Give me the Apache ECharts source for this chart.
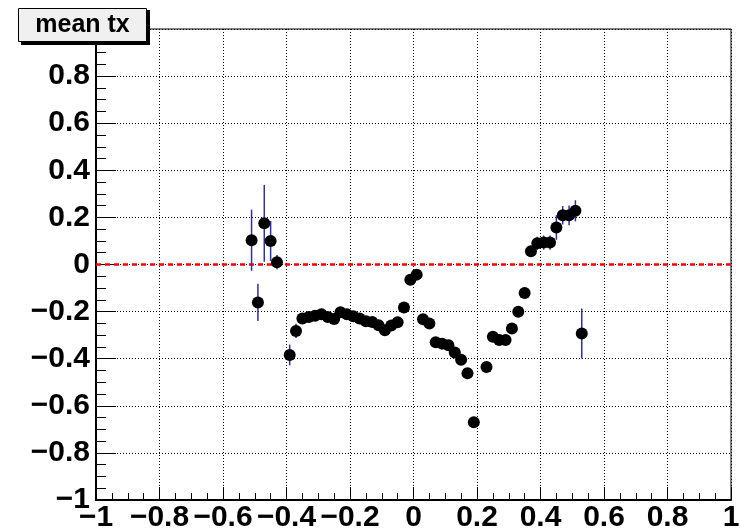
<!DOCTYPE html>
<html>
<head>
<meta charset="utf-8">
<script src="https://cdn.jsdelivr.net/npm/echarts@6/dist/echarts.min.js"></script>
<style>
html,body{margin:0;padding:0;background:#fff;}
#chart{width:740px;height:531px;}
</style>
</head>
<body>
<div id="chart"></div>
<script>
const titleText = 'mean tx';
const xTicks = [-1, -0.8, -0.6, -0.4, -0.2, 0, 0.2, 0.4, 0.6, 0.8, 1];
const xVals = [-0.51, -0.49, -0.47, -0.45, -0.43, -0.39, -0.37, -0.35, -0.33, -0.31,
  -0.29, -0.27, -0.25, -0.23, -0.21, -0.19, -0.17, -0.15, -0.13, -0.11,
  -0.09, -0.07, -0.05, -0.03, -0.01, 0.01, 0.03, 0.05, 0.07, 0.09,
  0.11, 0.13, 0.15, 0.17, 0.19, 0.23, 0.25, 0.27, 0.29, 0.31,
  0.33, 0.35, 0.37, 0.39, 0.41, 0.43, 0.45, 0.47, 0.49, 0.51, 0.53];
const yVals = [0.103, -0.161, 0.175, 0.100, 0.010, -0.384, -0.282, -0.229, -0.223, -0.218,
  -0.211, -0.223, -0.231, -0.203, -0.211, -0.220, -0.229, -0.241, -0.244, -0.258,
  -0.279, -0.259, -0.245, -0.183, -0.065, -0.043, -0.232, -0.251, -0.330, -0.336,
  -0.343, -0.374, -0.404, -0.462, -0.670, -0.435, -0.307, -0.321, -0.321, -0.272,
  -0.201, -0.121, 0.056, 0.090, 0.093, 0.093, 0.157, 0.209, 0.209, 0.228, -0.293];
const yErrs = [0.130, 0.079, 0.163, 0.085, 0.030, 0.044, 0.030, 0.015, 0.015, 0.015,
  0.015, 0.015, 0.015, 0.015, 0.015, 0.015, 0.015, 0.015, 0.015, 0.015,
  0.015, 0.015, 0.015, 0.015, 0.015, 0.015, 0.015, 0.015, 0.015, 0.015,
  0.015, 0.015, 0.015, 0.015, 0.015, 0.015, 0.015, 0.015, 0.015, 0.015,
  0.015, 0.015, 0.020, 0.028, 0.030, 0.030, 0.052, 0.039, 0.042, 0.045, 0.106];
const refLineY = 0;

const pts = xVals.map((x, i) => [x, yVals[i], yErrs[i]]);
const FONT = '"Liberation Sans", Arial, Helvetica, sans-serif';
const fmt = v => {
  const r = Math.round(v * 10) / 10;
  if (Math.abs(r) < 1e-9) return '0';
  return String(r).replace('-', '\u2212');
};

const chart = echarts.init(document.getElementById('chart'), null, {renderer: 'canvas'});
chart.setOption({
  animation: false,
  backgroundColor: '#fff',
  grid: {left: 96, right: 9, top: 29, bottom: 31, containLabel: false, outerBoundsMode: 'none',
         show: true, borderColor: '#000', borderWidth: 1},
  xAxis: {
    type: 'value', min: -1, max: 1, interval: 0.2,
    axisLine: {show: true, onZero: false, lineStyle: {color: '#000', width: 2}},
    axisTick: {show: true, inside: true, length: 13, lineStyle: {color: '#000', width: 1}},
    minorTick: {show: true, splitNumber: 4, length: 7, lineStyle: {color: '#000', width: 1}},
    splitLine: {show: true, lineStyle: {color: '#000', type: [1, 2], width: 1}},
    axisLabel: {show: true, margin: 3, color: '#000', fontFamily: FONT, fontWeight: 'bold', fontSize: 30,
                formatter: fmt, showMinLabel: true, showMaxLabel: true, hideOverlap: false}
  },
  yAxis: {
    type: 'value', min: -1, max: 1, interval: 0.2,
    axisLine: {show: true, onZero: false, lineStyle: {color: '#000', width: 2}},
    axisTick: {show: true, inside: true, length: 20, lineStyle: {color: '#000', width: 1}},
    minorTick: {show: true, splitNumber: 4, length: 10, lineStyle: {color: '#000', width: 1}},
    splitLine: {show: true, lineStyle: {color: '#000', type: [1, 2], width: 1}},
    axisLabel: {show: true, margin: 6, color: '#000', fontFamily: FONT, fontWeight: 'bold', fontSize: 30,
                formatter: v => (v >= 0.999 ? '' : fmt(v)), hideOverlap: false}
  },
  series: [
    {
      type: 'line', data: [[-1, refLineY], [1, refLineY]], symbol: 'none', z: 3,
      lineStyle: {color: '#ff0000', width: 2.5, type: [5, 4], opacity: 1}, silent: true
    },
    {
      type: 'custom', data: pts, z: 4, silent: true,
      renderItem: (params, api) => {
        const x = api.value(0), y = api.value(1), e = api.value(2);
        const a = api.coord([x, y + e]);
        const b = api.coord([x, y - e]);
        return {type: 'line', shape: {x1: a[0], y1: a[1], x2: b[0], y2: b[1]},
                style: {stroke: '#2e2eb0', lineWidth: 1.5}};
      }
    },
    {
      type: 'scatter', data: pts.map(p => [p[0], p[1]]), symbol: 'circle', symbolSize: 12, z: 5,
      itemStyle: {color: '#000', opacity: 1}, silent: true
    }
  ],
  graphic: [
    {type: 'rect', shape: {x: 21, y: 10, width: 129, height: 35}, style: {fill: '#000'}, z: 100},
    {type: 'rect', shape: {x: 18.5, y: 8.5, width: 128, height: 33}, style: {fill: '#f0f0f0', stroke: '#000', lineWidth: 1}, z: 101},
    {type: 'text', x: 82.5, y: 25.5, z: 102,
     style: {text: titleText, fill: '#000', font: 'bold 25px ' + FONT, align: 'center', verticalAlign: 'middle'}}
  ]
});
</script>
</body>
</html>
